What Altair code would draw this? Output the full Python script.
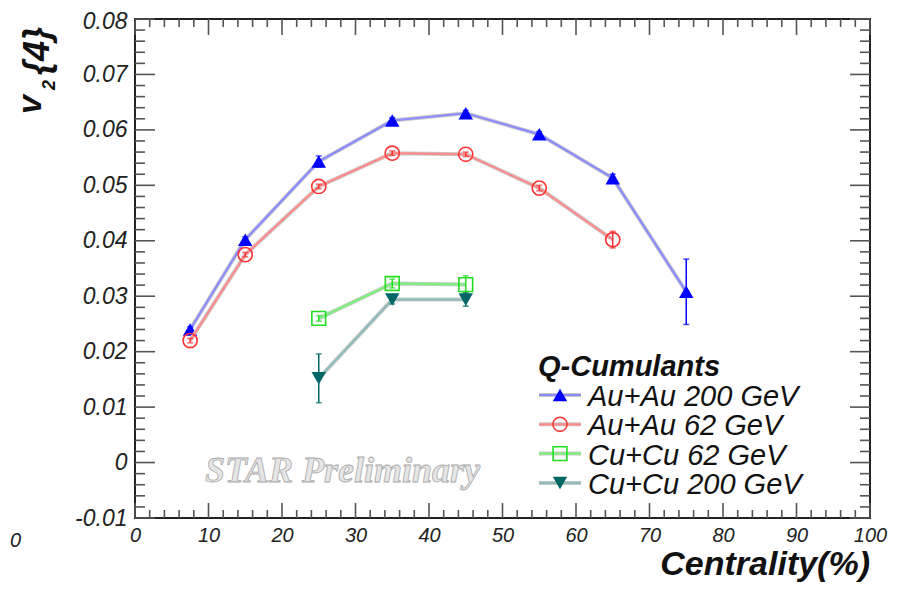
import altair as alt
import pandas as pd

# ---- data ----
series_names = ["Au+Au 200 GeV", "Au+Au 62 GeV", "Cu+Cu 62 GeV", "Cu+Cu 200 GeV"]

x_au200 = [7.5, 15, 25, 35, 45, 55, 65, 75]
y_au200 = [0.0240, 0.0402, 0.0543, 0.0617, 0.0630, 0.0592, 0.0513, 0.0308]
e_au200 = [0.0005, 0.0005, 0.0010, 0.0005, 0.0005, 0.0005, 0.0007, 0.0059]

x_au62 = [7.5, 15, 25, 35, 45, 55, 65]
y_au62 = [0.0220, 0.0375, 0.0498, 0.0558, 0.0556, 0.0495, 0.0402]
e_au62 = [0.0004, 0.0004, 0.0004, 0.0004, 0.0004, 0.0005, 0.0015]

x_cu62 = [25, 35, 45]
y_cu62 = [0.0260, 0.0323, 0.0321]
e_cu62 = [0.0005, 0.0008, 0.0016]

x_cu200 = [25, 35, 45]
y_cu200 = [0.0152, 0.0294, 0.0294]
e_cu200 = [0.0044, 0.0008, 0.0012]

x_ticks_major = list(range(0, 101, 10))
x_ticks_minor = [v for v in range(0, 101, 2) if v % 10 != 0]
y_ticks_major = [round(-0.01 + 0.01 * i, 3) for i in range(10)]
y_ticks_minor = [round(-0.01 + 0.002 * i, 4) for i in range(46) if i % 5 != 0]

W, H = 735, 499
FONT = "Liberation Sans"

xs = alt.Scale(domain=[0, 100], nice=False, zero=False)
ys = alt.Scale(domain=[-0.01, 0.08], nice=False, zero=False)


def X(field):
    return alt.X(field, type="quantitative", scale=xs, title=None,
                 axis=alt.Axis(values=x_ticks_major, format="d"))


def Y(field):
    return alt.Y(field, type="quantitative", scale=ys, title=None,
                 axis=alt.Axis(values=y_ticks_major,
                               labelOffset={"condition": {"test": "datum.value > 0.079", "value": 2}, "value": 0},
                               labelExpr="datum.value == 0 ? '0' : (datum.value < 0 ? '-' + format(-datum.value, '.2f') : format(datum.value, '.2f'))"))


def mk(xv, yv, ev):
    return pd.DataFrame({"x": xv, "y": yv,
                         "lo": [a - b for a, b in zip(yv, ev)],
                         "hi": [a + b for a, b in zip(yv, ev)]})


styles = [
    dict(df=mk(x_au200, y_au200, e_au200), line="#8c8cff", mcol="#0000ff", shape="triangle-up", filled=True, size=210),
    dict(df=mk(x_au62, y_au62, e_au62), line="#ff8c8c", mcol="#ff3333", shape="circle", filled=False, size=200),
    dict(df=mk(x_cu62, y_cu62, e_cu62), line="#7cf07c", mcol="#22dd22", shape="square", filled=False, size=190),
    dict(df=mk(x_cu200, y_cu200, e_cu200), line="#8fbcbc", mcol="#006666", shape="triangle-down", filled=True, size=210),
]

layers = []

# frame ticks (ROOT style, pointing inward on all four sides)
def tick_layer(vals, axis, length, side):
    d = pd.DataFrame({"v": vals})
    if axis == "x":
        if side == "bottom":
            enc = dict(x=X("v"), y=alt.value(H), y2=alt.value(H - length))
        else:
            enc = dict(x=X("v"), y=alt.value(0), y2=alt.value(length))
    else:
        if side == "left":
            enc = dict(y=Y("v"), x=alt.value(0), x2=alt.value(length))
        else:
            enc = dict(y=Y("v"), x=alt.value(W), x2=alt.value(W - length))
    return alt.Chart(d).mark_rule(color="#555555", strokeWidth=1.6).encode(**enc)

layers += [
    tick_layer(x_ticks_major, "x", 15, "bottom"),
    tick_layer(x_ticks_minor, "x", 8, "bottom"),
    tick_layer(x_ticks_major, "x", 16, "top"),
    tick_layer(x_ticks_minor, "x", 8, "top"),
    tick_layer(y_ticks_major, "y", 20, "left"),
    tick_layer(y_ticks_minor, "y", 10, "left"),
    tick_layer(y_ticks_major, "y", 20, "right"),
    tick_layer(y_ticks_minor, "y", 10, "right"),
]

# watermark
layers.append(
    alt.Chart(pd.DataFrame({"t": ["STAR Preliminary"]})).mark_text(
        font="Liberation Serif", fontStyle="italic", fontWeight="bold", fontSize=36,
        fill="#e6e6e6", stroke="#a8a8a8", strokeWidth=0.8, align="left", baseline="alphabetic"
    ).encode(text="t:N", x=alt.value(70), y=alt.value(463))
)

# series
for s in styles:
    base = alt.Chart(s["df"])
    layers.append(base.mark_line(color="#c8c8c8", strokeWidth=4).encode(x=X("x"), y=Y("y")))
    layers.append(base.mark_line(color=s["line"], strokeWidth=2.2).encode(x=X("x"), y=Y("y")))
    layers.append(base.mark_rule(color=s["mcol"], strokeWidth=1.5).encode(x=X("x"), y=Y("lo"), y2=alt.Y2("hi")))
    layers.append(base.mark_tick(color=s["mcol"], orient="horizontal", size=6, thickness=1.5).encode(x=X("x"), y=Y("lo")))
    layers.append(base.mark_tick(color=s["mcol"], orient="horizontal", size=6, thickness=1.5).encode(x=X("x"), y=Y("hi")))
    layers.append(base.mark_point(shape=s["shape"], filled=s["filled"], size=s["size"],
                                  color=s["mcol"], strokeWidth=1.6, opacity=1).encode(x=X("x"), y=Y("y")))

# legend
one = pd.DataFrame({"a": [0]})
layers.append(
    alt.Chart(pd.DataFrame({"t": ["Q-Cumulants"]})).mark_text(
        font=FONT, fontStyle="italic", fontWeight="bold", fontSize=29, color="#111111",
        align="left", baseline="alphabetic"
    ).encode(text="t:N", x=alt.value(403), y=alt.value(357))
)
for i, (name, s) in enumerate(zip(series_names, styles)):
    row = 376 + 29.3 * i
    layers.append(alt.Chart(one).mark_rule(color="#c8c8c8", strokeWidth=4).encode(
        x=alt.value(404), x2=alt.value(446), y=alt.value(row)))
    layers.append(alt.Chart(one).mark_rule(color=s["line"], strokeWidth=2.2).encode(
        x=alt.value(404), x2=alt.value(446), y=alt.value(row)))
    layers.append(alt.Chart(one).mark_point(shape=s["shape"], filled=s["filled"], size=s["size"],
                                            color=s["mcol"], strokeWidth=1.6, opacity=1).encode(
        x=alt.value(425), y=alt.value(row)))
    layers.append(alt.Chart(pd.DataFrame({"t": [name]})).mark_text(
        font=FONT, fontStyle="italic", fontSize=29, color="#111111", align="left", baseline="alphabetic"
    ).encode(text="t:N", x=alt.value(453), y=alt.value(row + 11)))

# axis titles
txt = dict(font=FONT, fontStyle="italic", fontWeight="bold", color="#111111", baseline="alphabetic")
layers.append(alt.Chart(pd.DataFrame({"t": ["Centrality(%)"]})).mark_text(
    fontSize=34, align="right", **txt).encode(text="t:N", x=alt.value(W), y=alt.value(556)))
layers.append(alt.Chart(pd.DataFrame({"t": ["v"]})).mark_text(
    fontSize=34, align="left", angle=270, **txt).encode(text="t:N", x=alt.value(-94), y=alt.value(95)))
layers.append(alt.Chart(pd.DataFrame({"t": ["2"]})).mark_text(
    fontSize=18, align="left", angle=270, **txt).encode(text="t:N", x=alt.value(-80), y=alt.value(71)))
layers.append(alt.Chart(pd.DataFrame({"t": ["{4}"]})).mark_text(
    fontSize=36, align="left", angle=270, **txt).encode(text="t:N", x=alt.value(-86), y=alt.value(56)))
# stray label at the far left
layers.append(alt.Chart(pd.DataFrame({"t": ["0"]})).mark_text(
    font=FONT, fontStyle="italic", fontSize=20, color="#222222", align="right", baseline="alphabetic"
).encode(text="t:N", x=alt.value(-114), y=alt.value(528)))

chart = alt.layer(*layers).properties(
    width=W, height=H,
    background="white",
    autosize=alt.AutoSizeParams(type="none"),
    padding={"left": 127, "top": 11, "right": 20, "bottom": 64},
).configure_view(
    stroke="#222222", strokeWidth=2
).configure_axis(
    domain=False, ticks=False, grid=False,
    labelFont=FONT, labelFontStyle="italic", labelColor="#222222",
    labelOverlap=False,
).configure_axisX(
    labelPadding=7, labelFlush=False, labelFontSize=20
).configure_axisY(
    labelPadding=8, labelFontSize=23
)

chart.save("out.html", embed_options={"renderer": "svg", "actions": False})
